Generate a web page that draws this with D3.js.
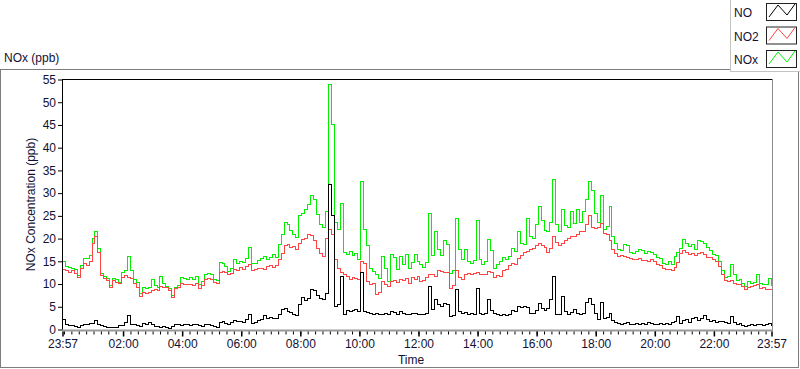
<!DOCTYPE html>
<html lang="en">
<head>
    <meta charset="UTF-8">
    <title>NOx (ppb)</title>
    <script src="https://d3js.org/d3.v7.min.js"></script>
    <style>
        body { margin: 0; background: #fff; }
        svg { display: block; font-family: "Liberation Sans", Arial, sans-serif; font-size: 12px; }
    </style>
</head>
<body>
<script>
// one reading every 6 minutes, first one at 23:57
const sampleMinutes = 6;

const no = [
    2.2, 1.0, 0.8, 0.9, 0.6, 0.5, 0.9, 1.2, 1.0, 1.3, 1.4,
    2.0, 1.0, 0.8, 0.6, 0.5, 0.4, 0.5, 0.5, 0.8, 0.9,
    1.6, 3.0, 1.2, 1.0, 0.8, 0.6, 1.3, 1.0, 1.5, 1.0,
    0.6, 0.7, 0.5, 0.6, 0.4, 0.3, 0.6, 1.2, 1.0, 0.8,
    1.0, 1.2, 0.9, 1.0, 1.1, 0.8, 0.6, 1.0, 1.2, 0.9,
    0.6, 0.4, 1.6, 1.8, 1.3, 1.2, 1.6, 2.0, 1.7, 1.8,
    1.6, 2.2, 3.4, 1.4, 1.6, 2.0, 2.2, 3.0, 2.4, 2.6,
    2.5, 2.4, 3.3, 4.4, 4.6, 4.0, 3.8, 3.2, 3.0, 5.5,
    7.0, 6.4, 6.8, 8.8, 8.5, 7.4, 6.9, 6.6, 7.9, 32.0,
    25.0, 5.0, 5.4, 11.6, 3.3, 4.2, 4.0, 4.1, 4.3, 4.0,
    12.5, 4.0, 3.8, 3.6, 3.2, 3.5, 3.4, 3.3, 3.5, 3.2,
    4.0, 3.8, 3.4, 3.9, 3.6, 3.4, 3.2, 3.5, 3.6, 3.3,
    3.4, 3.2, 3.6, 9.4, 4.4, 6.5, 5.5, 5.0, 5.8, 5.4,
    2.8, 3.0, 8.7, 4.0, 3.5, 3.8, 3.4, 3.6, 3.3, 9.0,
    3.6, 3.4, 3.5, 6.5, 4.2, 3.5, 3.2, 3.0, 3.3, 3.0,
    3.4, 4.2, 4.0, 5.0, 4.8, 5.0, 4.9, 3.6, 3.5, 4.2,
    5.7, 4.6, 4.2, 4.6, 6.5, 11.6, 3.4, 3.2, 7.2, 4.0,
    3.2, 3.8, 4.4, 3.6, 3.2, 3.5, 6.0, 6.8, 5.5, 3.5,
    2.2, 6.0, 2.4, 2.6, 3.6, 2.0, 1.6, 1.4, 1.2, 1.4,
    1.6, 1.2, 1.1, 1.3, 1.0, 1.4, 1.2, 1.5, 1.3, 1.2,
    1.2, 1.3, 1.2, 1.4, 1.2, 1.6, 1.8, 2.8, 1.4, 2.0,
    2.2, 1.6, 2.4, 2.6, 2.0, 2.4, 3.0, 2.2, 1.8, 1.9,
    1.6, 1.8, 1.7, 1.5, 1.4, 2.8, 1.6, 1.2, 1.3, 0.8,
    0.7, 0.8, 1.0, 0.9, 1.2, 1.0, 0.8, 1.0, 1.3, 0.8
];

const no2 = [
    13.2, 13.0, 12.6, 12.9, 12.4, 11.4, 13.4, 14.5, 14.1, 14.9, 18.9,
    20.4, 17.0, 11.9, 11.2, 10.7, 9.3, 10.8, 10.4, 10.1, 11.4,
    11.9, 11.5, 11.2, 10.1, 9.3, 7.3, 8.2, 8.0, 8.2, 8.6,
    8.8, 8.6, 9.5, 9.3, 9.2, 8.6, 7.1, 9.0, 9.3, 10.1,
    10.0, 9.8, 10.0, 9.7, 10.2, 9.0, 9.6, 11.0, 11.3, 11.0,
    10.4, 10.2, 12.5, 12.8, 12.6, 12.0, 12.3, 13.2, 12.9, 13.6,
    13.2, 13.8, 14.2, 12.9, 13.1, 13.4, 13.4, 13.2, 13.8, 14.0,
    13.7, 14.0, 15.5, 16.8, 18.5, 18.6, 18.0, 18.3, 17.6, 19.0,
    19.8, 20.0, 20.8, 20.6, 19.5, 17.8, 16.8, 16.0, 20.0, 22.0,
    21.0, 15.5, 13.5, 12.5, 12.0, 11.6, 11.0, 11.5, 11.2, 11.0,
    15.0, 14.6, 10.5, 9.8, 10.2, 7.8, 8.2, 10.5, 10.0, 9.4,
    10.5, 10.8, 10.4, 11.0, 10.8, 11.2, 10.2, 11.5, 11.0, 11.6,
    10.6, 10.8, 11.5, 12.2, 12.0, 11.6, 13.0, 12.8, 12.5, 12.6,
    9.0, 9.6, 13.0, 11.5, 11.0, 12.0, 12.3, 12.0, 12.4, 12.6,
    12.0, 12.2, 12.0, 12.8, 12.6, 11.5, 11.8, 11.6, 13.0, 13.2,
    14.0, 14.5, 14.4, 15.7, 16.2, 17.0, 17.2, 17.5, 17.8, 18.4,
    19.0, 18.5, 18.0, 17.0, 17.8, 20.4, 19.2, 18.5, 19.0, 19.5,
    20.0, 20.4, 20.5, 21.0, 21.5, 21.6, 23.0, 25.0, 22.5, 22.2,
    22.4, 23.4, 21.2, 21.0, 19.5, 17.6, 16.8, 16.0, 16.2, 16.0,
    15.8, 15.6, 15.5, 15.4, 15.6, 15.2, 15.2, 15.0, 15.3, 15.0,
    14.4, 14.0, 13.5, 13.2, 13.3, 13.0, 13.6, 14.8, 16.8, 17.4,
    17.0, 16.6, 16.8, 16.2, 16.8, 16.9, 16.6, 15.9, 15.8, 15.4,
    15.0, 13.8, 12.0, 10.8, 10.6, 10.8, 10.2, 9.8, 9.9, 9.4,
    8.8, 9.2, 9.4, 9.6, 9.8, 9.0, 9.2, 8.8, 8.8, 8.6
];

const nox = [
    15.0, 13.9, 13.6, 13.4, 13.3, 11.9, 14.1, 15.6, 15.6, 16.3, 20.0,
    21.5, 17.8, 12.3, 11.7, 11.2, 9.7, 11.2, 11.0, 10.4, 12.6,
    13.0, 16.0, 13.0, 11.0, 10.4, 7.9, 9.3, 9.0, 9.3, 11.0,
    9.7, 9.3, 11.7, 10.1, 9.5, 9.0, 7.5, 9.3, 9.7, 11.4,
    11.2, 11.0, 11.4, 11.0, 11.6, 9.8, 10.6, 12.2, 12.4, 12.0,
    11.0, 10.8, 14.8, 14.5, 13.9, 12.8, 13.5, 15.4, 14.6, 15.0,
    14.8, 15.6, 18.0, 14.6, 14.6, 15.2, 15.7, 16.0, 15.4, 15.8,
    16.5, 15.8, 18.8, 21.0, 23.6, 23.0, 21.8, 21.0, 20.2, 25.0,
    25.5, 26.5, 27.5, 29.4, 28.6, 25.2, 23.2, 22.4, 26.0, 54.0,
    45.0, 23.5, 22.0, 27.8, 17.0, 16.5, 17.2, 16.3, 16.8, 15.5,
    32.6, 22.0, 18.5, 13.5, 12.8, 12.0, 11.2, 16.0, 13.5, 10.5,
    16.5, 15.8, 13.2, 16.0, 14.2, 16.5, 13.5, 14.8, 16.4, 15.0,
    14.2, 13.6, 14.8, 25.5, 16.2, 21.5, 17.5, 16.2, 19.5, 18.8,
    12.4, 13.0, 24.5, 17.5, 15.3, 17.6, 15.0, 14.6, 15.2, 24.0,
    15.3, 14.4, 15.0, 19.8, 17.4, 13.5, 14.2, 15.0, 15.8, 15.4,
    16.0, 17.8, 17.2, 21.5, 19.0, 18.6, 24.5, 20.5, 20.0, 23.0,
    27.0, 24.0, 21.8, 21.5, 23.5, 33.0, 23.2, 21.5, 26.3, 22.8,
    22.4, 26.0, 23.4, 26.3, 23.6, 26.0, 28.5, 32.5, 30.5, 25.5,
    23.5, 29.4, 22.0, 22.6, 27.0, 20.4, 19.0, 17.6, 17.4, 18.6,
    18.4, 17.0, 16.8, 17.2, 17.6, 17.4, 16.8, 17.2, 17.0, 16.5,
    15.8, 15.6, 14.6, 14.4, 15.0, 14.2, 16.0, 17.0, 17.8, 19.8,
    19.0, 18.2, 18.8, 17.6, 19.6, 19.4, 19.0, 18.0, 17.3, 16.6,
    16.2, 15.0, 13.0, 11.4, 11.6, 14.2, 12.0, 10.8, 11.0, 10.2,
    9.4, 10.6, 10.2, 10.4, 12.0, 10.2, 10.0, 9.8, 11.3, 9.6
];

// minutes after 23:57 for the labelled time ticks
const tickMinutes = [0, 123, 243, 363, 483, 603, 723, 843, 963, 1083, 1203, 1323, 1440];
const tickLabels = ["23:57", "02:00", "04:00", "06:00", "08:00", "10:00", "12:00",
                    "14:00", "16:00", "18:00", "20:00", "22:00", "23:57"];
const yTicks = [0, 5, 10, 15, 20, 25, 30, 35, 40, 45, 50, 55];

const series = [
    {name: "NOx", values: nox, color: "#00f000"},
    {name: "NO2", values: no2, color: "#ff4444"},
    {name: "NO",  values: no,  color: "#000000"}
];
const legendOrder = ["NO", "NO2", "NOx"];

const w = 800, h = 369;
const plotL = 62, plotR = 772, plotT = 79, plotB = 330;

const svg = d3.select("body")
    .append("svg")
    .attr("width", w)
    .attr("height", h);

const x = d3.scaleLinear().domain([0, 1440]).range([plotL + 0.5, plotR - 0.5]);
const y = d3.scaleLinear().domain([0, 55]).range([plotB - 0.5, plotT + 0.5]);

// outer panel frame
const frame = svg.append("g").attr("stroke", "#7d7d7d").attr("stroke-width", 1);
frame.append("line").attr("x1", 0).attr("x2", 800).attr("y1", 69.5).attr("y2", 69.5);
frame.append("line").attr("x1", 0.5).attr("x2", 0.5).attr("y1", 69.5).attr("y2", 368);
frame.append("line").attr("x1", 0).attr("x2", 799).attr("y1", 367.5).attr("y2", 367.5);
frame.append("line").attr("x1", 798.5).attr("x2", 798.5).attr("y1", 69.5).attr("y2", 368);

svg.append("text")
    .attr("x", 4)
    .attr("y", 62)
    .attr("fill", "#111133")
    .text("NOx (ppb)");

// data lines, clipped to the plot area
svg.append("clipPath")
    .attr("id", "plotclip")
    .append("rect")
    .attr("x", plotL)
    .attr("y", plotT)
    .attr("width", plotR - plotL)
    .attr("height", plotB - plotT);

const line = d3.line()
    .curve(d3.curveStepAfter)
    .x((d, i) => x(i * sampleMinutes))
    .y(d => y(d));

svg.append("g")
    .attr("clip-path", "url(#plotclip)")
    .selectAll("path")
    .data(series)
    .enter()
    .append("path")
    .attr("d", d => line(d.values))
    .attr("fill", "none")
    .attr("stroke", d => d.color)
    .attr("stroke-width", 1)
    .attr("shape-rendering", "crispEdges");

// plot border: dark top/left, grey bottom/right
svg.append("line").attr("x1", plotL).attr("x2", plotR).attr("y1", plotT + 0.5).attr("y2", plotT + 0.5).attr("stroke", "#000");
svg.append("line").attr("x1", plotL + 0.5).attr("x2", plotL + 0.5).attr("y1", plotT).attr("y2", plotB).attr("stroke", "#000");
svg.append("line").attr("x1", plotR + 0.5).attr("x2", plotR + 0.5).attr("y1", plotT).attr("y2", plotB).attr("stroke", "#8a8a8a");
svg.append("line").attr("x1", plotL).attr("x2", plotR + 1).attr("y1", plotB + 0.5).attr("y2", plotB + 0.5).attr("stroke", "#9a9a9a").attr("stroke-width", 2);

// y axis
const yAxis = d3.axisLeft(y).tickValues(yTicks).tickSize(4).tickPadding(2);
const gy = svg.append("g")
    .attr("transform", "translate(" + plotL + ",0)")
    .call(yAxis);
gy.select(".domain").remove();
gy.selectAll("text").attr("font-size", 12).attr("font-family", null).attr("fill", "#111133");

svg.append("text")
    .attr("transform", "translate(31," + ((plotT + plotB) / 2) + ") rotate(-90)")
    .attr("text-anchor", "middle")
    .attr("dominant-baseline", "central")
    .attr("fill", "#111133")
    .text("NOx Concentration (ppb)");

// x axis: minor ticks every 15 minutes, then labelled ticks
const minorAxis = d3.axisBottom(x).tickValues(d3.range(3, 1440, 15)).tickSize(3).tickFormat("");
const gm = svg.append("g").attr("transform", "translate(0," + (plotB + 1.5) + ")").call(minorAxis);
gm.select(".domain").remove();

const xAxis = d3.axisBottom(x)
    .tickValues(tickMinutes)
    .tickFormat((d, i) => tickLabels[i])
    .tickSize(5)
    .tickPadding(3);
const gx = svg.append("g")
    .attr("transform", "translate(0," + (plotB + 1.5) + ")")
    .call(xAxis);
gx.select(".domain").remove();
gx.selectAll("line").attr("stroke-width", 1.5);
gx.selectAll("text").attr("font-size", 12).attr("font-family", null).attr("fill", "#111133");

svg.append("text")
    .attr("x", 411)
    .attr("y", 364)
    .attr("text-anchor", "middle")
    .attr("fill", "#111133")
    .text("Time");

// legend box in the top right corner
svg.append("rect")
    .attr("x", 730.5)
    .attr("y", -1)
    .attr("width", 71)
    .attr("height", 72.5)
    .attr("fill", "#fff")
    .attr("stroke", "#c4c4c4");

const swatch = d3.line();
const legend = svg.selectAll(".legend")
    .data(legendOrder.map(n => series.find(s => s.name === n)))
    .enter()
    .append("g")
    .attr("class", "legend")
    .attr("transform", (d, i) => "translate(0," + (i * 23.5) + ")");

legend.append("text")
    .attr("x", 734)
    .attr("y", 17)
    .attr("fill", "#111133")
    .text(d => d.name);

legend.append("rect")
    .attr("x", 766.5)
    .attr("y", 3.5)
    .attr("width", 30)
    .attr("height", 17)
    .attr("fill", "#fff")
    .attr("stroke", "#222");

legend.append("path")
    .attr("d", swatch([[769, 17], [778, 5], [787, 15], [795, 4]]))
    .attr("fill", "none")
    .attr("stroke", d => d.color);
</script>
</body>
</html>
